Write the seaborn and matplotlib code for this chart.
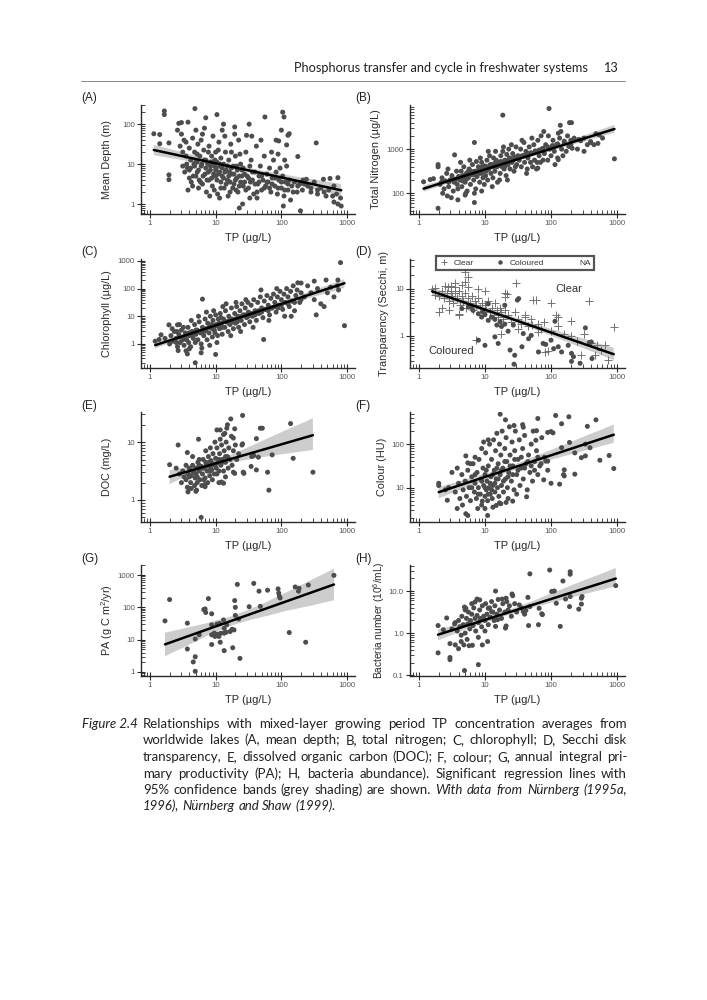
import numpy as np
import pandas as pd
import seaborn as sns
import matplotlib
matplotlib.use("Agg")
import matplotlib.pyplot as plt
from matplotlib.ticker import FixedLocator, FixedFormatter
from matplotlib.collections import PolyCollection
from matplotlib.lines import Line2D

# ---------------- data: (log10 TP, log10 response) ----------------
depth_pairs = [
    (0.06,1.76),(0.15,1.74),(0.22,2.33),(0.22,2.24),(0.15,1.51),(0.29,1.53),(0.29,0.73),(0.29,0.61),
    (0.42,1.85),(0.44,2.02),(0.48,2.04),(0.58,2.05),(0.685,2.39),(0.85,2.16),(1.02,2.24),(1.12,2.0),
    (1.29,1.93),(1.51,2.0),(1.75,2.18),(2.02,2.3),(2.04,2.18),(2.0,1.85),(1.92,1.6),(1.96,1.58),
    (2.1,1.72),(2.12,1.76),(2.08,1.48),(2.25,1.19),(2.53,1.53),(2.33,0.6),(2.38,0.62),(2.64,0.62),
    (2.74,0.64),(2.86,0.66),(2.86,0.0),(2.91,-0.05),(1.36,-0.1),(1.41,0.0),(2.29,-0.17),(2.03,-0.05),
    (0.46,1.45),(0.5,1.3),(0.52,1.6),(0.55,1.2),(0.57,0.9),(0.6,0.85),(0.62,1.1),(0.48,1.75),(0.55,1.55),
    (0.6,1.4),(0.58,0.35),(0.63,0.55),(0.65,1.65),(0.66,0.7),
    (0.68,1.3),(0.7,1.05),(0.72,0.8),(0.73,1.5),(0.75,0.6),(0.76,1.2),(0.78,0.95),(0.8,1.75),(0.8,0.5),
    (0.82,1.35),(0.84,0.75),(0.85,1.1),(0.7,1.85),(0.74,0.4),(0.78,1.6),(0.83,1.9),(0.86,0.3),(0.68,0.95),(0.72,1.25),
    (0.88,1.0),(0.9,1.45),(0.9,0.6),(0.92,0.85),(0.94,1.2),(0.95,0.45),(0.96,1.7),(0.98,0.95),(1.0,1.3),
    (1.0,0.7),(1.02,1.05),(1.03,0.25),(1.05,1.55),(1.06,0.8),(1.08,1.15),(1.08,0.55),(0.93,1.05),(0.97,0.75),
    (1.01,0.9),(1.04,1.35),(1.07,0.95),(0.89,1.3),(0.99,1.1),(1.1,0.7),(1.1,1.85),(0.91,0.2),(1.06,0.15),
    (1.12,1.0),(1.13,0.4),(1.15,1.3),(1.16,0.85),(1.18,0.6),(1.2,1.1),(1.22,0.3),(1.23,1.5),(1.25,0.75),
    (1.27,0.95),(1.28,0.5),(1.3,1.2),(1.32,0.65),(1.33,0.85),(1.35,1.6),(1.36,0.45),(1.38,1.0),(1.4,0.7),
    (1.14,1.7),(1.19,0.2),(1.24,1.3),(1.31,0.35),(1.37,1.25),(1.21,0.8),(1.29,1.75),
    (1.42,0.9),(1.44,0.55),(1.46,1.3),(1.48,0.7),(1.5,0.4),(1.52,0.95),(1.54,1.1),(1.56,0.6),(1.58,0.25),
    (1.6,0.8),(1.62,1.45),(1.64,0.5),(1.66,0.7),(1.68,0.95),(1.7,0.35),(1.72,0.6),(1.74,1.2),(1.76,0.45),
    (1.78,0.75),(1.47,1.72),(1.55,1.7),(1.63,0.15),(1.69,1.6),(1.52,0.15),
    (1.8,0.55),(1.82,0.9),(1.84,0.3),(1.86,0.65),(1.88,1.1),(1.9,0.45),(1.92,0.8),(1.94,0.25),(1.96,0.6),
    (1.98,0.9),(2.0,0.4),(2.02,0.7),(2.04,0.2),(2.06,0.55),(2.08,0.95),(2.1,0.35),(2.12,0.6),(2.14,0.1),
    (2.16,0.45),(2.2,0.55),(2.24,0.3),(2.28,0.5),(2.32,0.35),(1.85,1.3),(1.95,1.25),(2.05,1.1),
    (2.4,0.45),(2.45,0.3),(2.5,0.55),(2.55,0.25),(2.6,0.4),(2.68,0.2),(2.72,0.35),(2.78,0.2),(2.8,0.45),(2.84,0.25),
    (0.5,0.95),(0.53,0.8),(0.56,1.0),(0.6,0.65),(0.62,0.9),(0.65,0.45),(0.67,1.0),(0.7,0.7),(0.72,1.05),
    (0.74,0.85),(0.77,0.55),(0.79,1.0),(0.81,0.7),(0.83,1.1),(0.85,0.9),(0.87,0.6),(0.89,0.8),(0.92,0.95),
    (0.94,0.65),(0.96,1.05),(0.98,0.35),(1.0,0.85),(1.02,0.6),(1.04,0.75),(1.06,1.0),(1.08,0.4),(1.1,0.9),
    (1.12,0.65),(1.14,0.8),(1.16,0.5),(1.18,0.95),(1.2,0.7),(1.22,0.55),(1.24,0.9),(1.26,0.4),(1.28,0.75),
    (1.3,0.6),(1.32,0.95),(1.34,0.3),(1.36,0.7),(1.38,0.55),(1.4,0.85),(1.42,0.45),(1.44,0.75),(1.46,0.35),
    (1.5,0.65),(1.53,0.55),(1.56,0.8),(1.6,0.5),(1.63,0.3),(1.66,0.55),(1.7,0.7),(1.74,0.4),(1.78,0.55),
    (1.82,0.4),(1.86,0.5),(1.9,0.65),(1.95,0.4),(2.0,0.55),(2.05,0.35),(2.1,0.5),(2.18,0.3),(2.25,0.45),
    (2.35,0.5),(2.45,0.4),(2.55,0.35),(2.65,0.3),(2.9,0.15),(2.8,0.05),
]

nitrogen_pairs = [
    (0.07,2.26),(0.17,2.31),(0.22,2.33),(0.29,2.65),(0.29,2.6),(0.29,1.66),(1.27,3.77),(1.97,3.92),
    (2.96,2.78),(0.84,3.15),(0.54,2.87),(0.43,1.94),(0.49,1.9),(0.59,1.85),(0.84,1.79),(0.7,1.96),
    (0.95,2.05),(2.27,3.06),(2.32,3.02),(2.28,3.6),(2.31,3.6),(2.14,3.54),(1.89,3.4),(2.5,2.95),
    (2.11,2.76),(1.8,2.57),(2.11,3.36),(2.71,3.13),(2.73,3.32),(2.6,3.17),(2.45,3.19),
    (0.32,2.2),(0.35,2.35),(0.38,2.1),(0.4,2.28),(0.42,2.45),(0.45,2.15),(0.47,2.3),(0.5,2.4),(0.52,2.05),
    (0.55,2.32),(0.57,2.5),(0.58,2.2),(0.6,2.38),(0.36,2.0),(0.44,2.55),(0.53,2.25),(0.59,2.1),(0.34,2.25),
    (0.62,2.3),(0.64,2.5),(0.65,2.15),(0.67,2.4),(0.68,2.6),(0.7,2.25),(0.72,2.45),(0.73,2.05),(0.75,2.35),
    (0.76,2.55),(0.78,2.2),(0.8,2.42),(0.81,2.65),(0.83,2.3),(0.85,2.5),(0.86,2.1),(0.88,2.38),(0.9,2.6),
    (0.63,2.7),(0.71,2.0),(0.77,2.75),(0.84,2.0),(0.69,2.35),(0.79,2.5),(0.87,2.72),(0.66,2.28),(0.74,2.48),
    (0.91,2.45),(0.92,2.25),(0.94,2.55),(0.95,2.7),(0.97,2.35),(0.98,2.5),(1.0,2.62),(1.01,2.4),(1.03,2.75),
    (1.04,2.3),(1.06,2.55),(1.07,2.85),(1.09,2.45),(1.1,2.65),(1.12,2.35),(1.13,2.8),(1.15,2.5),(1.16,2.95),
    (1.18,2.6),(1.19,2.25),(0.93,2.8),(0.99,2.2),(1.05,2.95),(1.11,2.15),(1.17,2.75),(1.02,2.5),(1.08,2.65),
    (0.96,2.6),(1.14,2.62),
    (1.21,2.7),(1.23,2.45),(1.24,2.85),(1.26,2.6),(1.27,2.95),(1.29,2.55),(1.3,2.75),(1.32,2.4),(1.33,2.88),
    (1.35,2.65),(1.36,3.0),(1.38,2.55),(1.39,2.78),(1.41,2.7),(1.42,2.9),(1.44,2.5),(1.45,2.82),(1.47,3.05),
    (1.48,2.65),(1.5,2.85),(1.22,2.3),(1.28,3.05),(1.34,2.3),(1.4,3.1),(1.46,2.6),(1.31,2.62),(1.37,2.8),
    (1.52,2.75),(1.54,3.0),(1.55,2.6),(1.57,2.85),(1.59,3.15),(1.6,2.7),(1.62,2.95),(1.64,2.55),(1.65,2.8),
    (1.67,3.05),(1.69,2.7),(1.7,2.9),(1.72,2.6),(1.74,3.1),(1.75,2.75),(1.77,2.95),(1.79,2.7),(1.8,3.2),
    (1.82,2.85),(1.84,2.7),(1.86,3.0),(1.88,2.75),(1.56,3.2),(1.63,2.45),(1.71,3.25),(1.78,2.55),(1.85,3.3),
    (1.9,2.9),(1.92,3.1),(1.95,2.75),(1.98,3.0),(2.0,2.85),(2.03,3.2),(2.05,2.95),(2.08,3.1),(2.1,2.8),
    (2.13,3.25),(2.16,3.0),(2.18,2.85),(2.2,3.15),(2.23,2.95),(2.25,3.3),(2.3,3.1),(2.35,3.25),(2.4,3.0),
    (2.5,3.25),(2.55,3.1),(2.6,3.15),(2.65,3.1),(2.68,3.35),(2.78,3.25),(1.96,3.3),(2.06,2.65),(2.15,3.4),
    (0.45,2.25),(0.5,2.32),(0.55,2.3),(0.6,2.33),(0.65,2.38),(0.7,2.4),(0.72,2.32),(0.78,2.45),(0.82,2.48),
    (0.85,2.42),(0.88,2.5),(0.92,2.55),(0.95,2.45),(0.98,2.58),(1.0,2.52),(1.03,2.6),(1.06,2.58),(1.09,2.62),
    (1.12,2.6),(1.15,2.68),(1.18,2.66),(1.2,2.62),(1.24,2.72),(1.27,2.7),(1.3,2.68),(1.33,2.74),(1.36,2.72),
    (1.4,2.78),(1.43,2.76),(1.46,2.8),(1.5,2.78),(1.55,2.84),(1.6,2.86),(1.65,2.9),(1.7,2.92),(1.76,2.96),
    (1.82,2.98),(1.88,3.02),(1.95,3.05),(2.02,3.08),(2.1,3.12),(2.2,3.18),(2.3,3.2),(2.42,3.22),
]

chlorophyll_pairs = [
    (2.9,2.94),(2.96,0.66),(0.69,-0.68),(2.25,2.21),(2.53,1.05),(2.68,2.31),(2.86,2.31),(2.87,1.95),
    (2.5,2.27),(0.43,-0.24),(0.57,-0.36),(0.6,-0.18),(0.78,-0.32),(1.0,-0.38),(1.73,0.16),(0.42,0.69),
    (0.8,1.62),(1.11,1.35),(0.08,0.1),(0.14,0.16),(0.17,0.33),(0.29,0.69),(0.23,0.2),
    (0.3,0.0),(0.32,0.3),(0.35,0.1),(0.37,0.45),(0.4,0.2),(0.42,-0.1),(0.44,0.35),(0.46,0.05),(0.48,0.5),
    (0.5,0.25),(0.52,-0.05),(0.54,0.4),(0.56,0.15),(0.58,0.6),(0.6,0.3),(0.62,-0.1),(0.64,0.45),(0.66,0.2),
    (0.68,0.7),(0.7,0.35),(0.34,0.55),(0.45,0.7),(0.55,-0.25),(0.63,0.85),(0.69,0.05),(0.51,0.6),(0.59,0.05),(0.41,0.45),
    (0.72,0.5),(0.73,0.15),(0.75,0.8),(0.77,0.4),(0.78,0.0),(0.8,0.6),(0.82,0.3),(0.84,0.9),(0.85,0.55),
    (0.87,0.15),(0.88,0.75),(0.9,0.4),(0.92,1.0),(0.93,0.6),(0.95,0.25),(0.96,0.85),(0.98,0.5),(1.0,1.05),
    (1.01,0.7),(1.03,0.3),(1.04,0.9),(1.06,0.55),(1.07,1.1),(1.09,0.75),(1.1,0.35),(0.74,1.0),(0.79,-0.15),
    (0.86,1.15),(0.91,-0.05),(0.97,1.2),(1.02,0.05),(1.08,0.95),(0.83,0.45),(0.94,0.7),(0.99,0.4),(1.05,0.65),
    (1.12,0.9),(1.14,0.6),(1.15,1.2),(1.17,0.8),(1.19,0.45),(1.2,1.0),(1.22,0.7),(1.24,1.3),(1.25,0.9),
    (1.27,0.55),(1.29,1.1),(1.3,0.75),(1.32,1.35),(1.34,1.0),(1.35,0.6),(1.37,1.2),(1.39,0.85),(1.4,1.45),
    (1.42,1.05),(1.44,0.7),(1.45,1.3),(1.47,0.95),(1.49,1.5),(1.5,1.15),(1.16,1.45),(1.23,0.3),(1.31,1.5),
    (1.38,0.45),(1.46,1.6),(1.21,0.85),(1.33,0.8),
    (1.52,0.8),(1.54,1.4),(1.56,1.0),(1.58,1.6),(1.6,1.2),(1.62,0.85),(1.64,1.5),(1.66,1.1),(1.68,1.7),
    (1.7,1.3),(1.72,0.95),(1.74,1.55),(1.76,1.25),(1.78,1.75),(1.8,1.4),(1.82,1.05),(1.84,1.65),(1.86,1.3),
    (1.88,1.8),(1.9,1.5),(1.92,1.15),(1.94,1.7),(1.96,1.4),(1.98,1.9),(2.0,1.6),(1.57,0.6),(1.69,1.95),
    (1.81,0.85),(1.93,2.0),
    (2.02,1.25),(2.04,1.8),(2.06,1.5),(2.08,2.0),(2.1,1.7),(2.12,1.35),(2.14,1.9),(2.16,1.55),(2.18,2.1),
    (2.2,1.2),(2.22,1.75),(2.24,1.95),(2.28,1.5),(2.3,1.85),(2.35,1.7),(2.4,2.1),(2.45,1.85),(2.5,1.6),
    (2.55,2.0),(2.6,1.45),(2.65,1.35),(2.7,1.85),(2.75,2.05),(2.8,1.7),(2.85,2.1),(2.05,1.0),(2.15,1.0),(2.3,2.2),
    (0.4,0.05),(0.45,0.25),(0.5,0.15),(0.55,0.3),(0.6,0.4),(0.65,0.3),(0.7,0.5),(0.75,0.45),(0.8,0.4),
    (0.85,0.5),(0.9,0.6),(0.95,0.55),(1.0,0.65),(1.05,0.75),(1.1,0.6),(1.15,0.8),(1.2,0.75),(1.25,0.8),
    (1.3,0.9),(1.35,0.95),(1.4,1.0),(1.45,1.05),(1.5,1.0),(1.55,1.1),(1.6,1.05),(1.65,1.2),(1.7,1.15),
    (1.75,1.25),(1.8,1.2),(1.85,1.3),(1.9,1.35),(1.95,1.3),(2.0,1.4),(2.1,1.45),(2.2,1.5),(2.3,1.6),
]

secchi_clear_pairs = [
    (0.7,1.35),(0.75,1.25),(1.47,1.13),(2.58,0.73),(2.95,0.19),(2.0,0.7),(1.73,0.77),(1.77,0.77),
    (1.33,0.89),(1.3,0.82),(0.3,0.51),(0.25,0.86),(0.44,1.04),(0.49,1.06),(0.54,1.04),(0.75,1.04),
    (0.7,1.14),(0.6,0.44),(0.61,0.47),(2.07,0.44),(2.11,0.41),(2.31,0.31),(1.91,-0.34),(1.96,-0.33),
    (2.46,-0.41),(2.67,-0.41),(2.87,-0.51),(2.82,-0.2),(1.81,0.08),(1.25,0.05),(0.87,-0.09),(1.6,0.4),
    (1.71,0.23),(1.5,0.15),
    (0.3,0.85),(0.35,0.95),(0.38,0.8),(0.42,0.9),(0.45,0.75),(0.48,0.95),(0.5,0.85),(0.52,0.7),(0.55,0.9),
    (0.57,0.8),(0.6,0.95),(0.62,0.65),(0.65,0.85),(0.67,0.75),(0.7,0.9),(0.72,0.6),(0.75,0.8),(0.77,0.7),
    (0.8,0.85),(0.82,0.55),(0.85,0.75),(0.87,0.65),(0.9,0.8),(0.92,0.6),(0.95,0.7),(0.97,0.5),(1.0,0.65),
    (1.02,0.55),(1.05,0.75),(1.08,0.5),(1.1,0.6),(1.13,0.45),(1.15,0.7),(1.18,0.55),(1.2,0.4),(1.23,0.6),
    (1.25,0.5),(1.28,0.35),(1.3,0.55),(1.35,0.45),(1.4,0.3),(1.45,0.5),(1.5,0.35),(1.55,0.25),(1.6,0.45),
    (1.65,0.2),(1.7,0.35),(1.8,0.25),(1.85,0.15),(1.9,0.3),(2.0,0.1),(2.1,0.2),(2.2,0.05),(2.3,0.0),
    (2.4,-0.1),(2.5,0.05),(2.6,-0.15),(2.7,-0.2),(2.75,-0.3),(0.2,1.0),(0.25,1.02),(0.4,1.05),(0.55,1.12),
    (0.65,1.08),(0.9,1.0),(1.0,0.95),(1.3,0.9),(0.35,0.6),(0.45,0.55),
]

secchi_coloured_pairs = [
    (0.75,0.61),(0.82,0.54),(0.9,0.47),(0.97,0.51),(1.05,0.33),(1.1,0.4),(1.18,0.23),(1.23,0.3),
    (1.0,-0.2),(1.2,-0.16),(1.15,-0.02),(0.9,-0.09),(1.43,0.23),(1.38,-0.3),(1.45,-0.41),(1.44,-0.6),
    (1.56,-0.23),(1.58,0.05),(1.66,-0.06),(1.51,0.79),(1.49,0.76),(1.7,0.01),(1.81,-0.34),(1.88,-0.16),
    (2.0,-0.09),(2.04,-0.27),(2.11,-0.23),(2.31,-0.37),(2.34,-0.44),(2.44,-0.58),(2.52,0.17),(2.58,-0.14),
    (2.61,-0.13),(2.62,-0.48),(2.31,-0.54),(2.06,0.31),(1.92,-0.18),(2.26,-0.2),(2.16,-0.34),(1.3,0.65),
    (1.05,0.68),(0.65,0.58),(0.8,0.6),(0.95,0.4),(1.0,0.45),(1.15,0.35),(1.25,0.2),(1.35,0.1),(1.3,0.25),
]

doc_pairs = [
    (0.3,0.61),(0.43,0.95),(0.57,0.82),(0.74,1.05),(1.23,1.4),(1.41,1.46),(1.18,1.3),(1.17,1.24),
    (1.02,1.21),(1.07,1.21),(1.29,1.23),(1.27,1.07),(1.12,1.13),(2.14,1.32),(2.18,0.72),(2.48,0.48),
    (1.81,0.17),(1.79,0.48),(1.86,0.78),(1.68,1.24),(1.71,1.24),(1.62,1.06),(1.41,0.97),(1.4,0.95),
    (1.55,0.75),(1.58,0.77),(1.65,0.74),(1.62,0.52),(1.42,0.48),(1.43,0.46),(1.54,0.58),(1.27,0.48),
    (1.29,0.46),(0.58,0.14),(0.63,0.2),(0.71,0.17),(0.84,0.23),(0.84,0.27),(1.09,0.31),(1.12,0.29),(0.78,-0.3),
    (0.5,0.5),(0.52,0.4),(0.55,0.35),(0.58,0.45),(0.6,0.55),(0.62,0.3),(0.63,0.42),(0.65,0.6),(0.67,0.48),
    (0.68,0.25),(0.7,0.55),(0.72,0.4),(0.73,0.65),(0.75,0.5),(0.76,0.35),(0.78,0.58),(0.8,0.45),(0.81,0.7),
    (0.83,0.55),(0.84,0.38),(0.86,0.62),(0.87,0.5),(0.89,0.75),(0.9,0.58),(0.91,0.42),(0.93,0.68),(0.94,0.52),
    (0.96,0.8),(0.97,0.62),(0.98,0.45),(1.0,0.72),(1.01,0.55),(1.02,0.9),(1.04,0.65),(1.05,0.5),(1.06,0.8),
    (1.08,0.6),(1.09,0.95),(1.1,0.7),(1.12,0.5),(1.13,0.85),(1.15,0.65),(1.16,1.0),(1.18,0.75),(1.19,0.55),
    (1.2,0.9),(1.22,0.7),(1.24,1.1),(1.25,0.6),(1.27,0.85),(1.3,0.95),(1.32,0.7),(1.35,0.8),(0.55,0.6),
    (0.6,0.2),(0.7,0.15),(0.75,0.7),(0.85,0.85),(0.95,0.35),(1.05,0.3),(1.15,0.4),(0.45,0.45),(0.48,0.3),
    (0.4,0.55),(0.65,0.75),(0.88,0.3),(0.92,0.9),(0.99,1.0),(1.07,1.05),(1.14,1.15),(0.57,0.22),(0.69,0.38),(0.79,0.25),
    (0.6,0.4),(0.65,0.5),(0.7,0.45),(0.75,0.6),(0.8,0.55),(0.85,0.65),(0.9,0.65),(0.95,0.6),(1.0,0.62),
    (1.05,0.7),(1.1,0.65),(1.15,0.75),(0.72,0.3),(0.82,0.35),(0.92,0.5),(1.02,0.45),
]

colour_pairs = [
    (0.3,1.1),(0.3,1.05),(0.43,0.71),(0.58,0.52),(0.71,1.73),(0.74,1.57),(1.23,2.69),(1.31,2.56),
    (1.44,2.43),(1.57,2.45),(1.58,2.39),(1.8,2.59),(2.07,2.66),(2.27,2.63),(2.68,2.56),(2.55,2.41),
    (2.16,2.47),(1.95,2.27),(2.0,2.29),(2.03,2.26),(1.77,2.09),(1.78,2.31),(1.73,2.3),
    (2.95,1.44),(2.74,1.63),(2.88,1.74),(2.46,1.69),(2.52,1.73),(2.36,1.31),(2.19,1.3),(2.2,1.27),
    (2.2,1.41),(2.13,1.08),(2.0,1.1),(1.89,1.18),(1.92,1.61),(1.95,1.61),(2.36,1.8),(2.59,1.92),
    (2.52,2.0),(2.28,2.04),(2.16,1.92),
    (1.0,0.52),(1.04,0.36),(0.74,0.36),(0.71,0.4),(0.89,0.52),(1.24,0.63),(1.32,0.66),(1.63,0.79),
    (1.42,0.69),(1.17,0.59),(0.96,0.69),
    (0.55,0.9),(0.6,1.1),(0.62,0.75),(0.65,1.3),(0.67,0.95),(0.7,1.15),(0.72,0.8),(0.74,1.4),(0.76,1.0),
    (0.78,0.7),(0.8,1.25),(0.82,1.55),(0.84,0.9),(0.85,1.1),(0.87,0.75),(0.88,1.35),(0.9,1.0),(0.91,1.65),
    (0.93,0.85),(0.94,1.2),(0.95,0.6),(0.97,1.45),(0.98,1.05),(1.0,0.8),(1.0,1.3),(1.01,1.8),(1.02,0.95),
    (1.03,1.15),(1.04,0.7),(1.05,1.5),(1.06,1.0),(1.07,2.0),(1.08,0.85),(1.09,1.25),(1.1,1.65),(1.11,0.75),
    (1.12,1.05),(1.13,2.1),(1.14,1.4),(1.15,0.9),(1.16,1.85),(1.17,1.2),(1.18,2.25),(1.19,1.0),(1.2,1.55),
    (1.21,0.8),(1.22,2.0),(1.23,1.3),(1.24,1.75),(1.25,1.05),(1.26,2.3),(1.27,1.45),(1.28,0.9),(1.3,1.9),
    (1.31,1.2),(1.32,2.15),(1.33,1.6),(1.34,1.0),(1.36,1.35),(1.37,2.4),(1.38,1.75),(1.4,1.15),(1.41,2.05),
    (1.42,1.5),(1.44,0.95),(1.45,1.85),(1.46,2.3),(1.48,1.3),(1.5,1.65),(1.52,2.1),(1.53,1.05),(1.55,1.45),
    (1.57,1.9),(1.58,1.2),(1.6,2.2),(1.62,1.55),(1.64,0.95),(1.66,1.75),(1.68,1.35),(1.7,2.0),(1.72,1.15),
    (1.75,1.6),(1.78,1.85),(1.8,1.3),(1.83,1.5),(1.86,2.15),(1.9,1.7),(1.95,1.4),(0.95,1.9),(0.85,1.7),
    (1.05,2.1),(0.98,2.05),(0.5,1.35),(0.45,1.0),(0.4,0.95),(0.58,1.45),(0.66,0.6),(0.78,1.55),(1.12,0.55),
    (1.22,0.65),(1.35,0.75),(1.48,0.85),
    (0.8,1.0),(0.85,1.3),(0.9,0.85),(0.95,1.15),(1.0,1.0),(1.02,1.4),(1.05,0.85),(1.08,1.1),(1.1,0.95),
    (1.12,1.3),(1.15,1.1),(1.18,1.45),(1.2,1.2),(1.25,1.4),(1.28,1.15),(1.3,1.6),(1.35,1.25),(1.38,1.5),
    (1.42,1.3),(1.45,1.65),(1.5,1.4),(1.55,1.7),(1.6,1.45),(1.65,1.6),(1.7,1.5),(1.75,1.4),(1.8,1.7),(1.85,1.55),
]

pa_pairs = [
    (0.23,1.58),(0.3,2.24),(0.57,1.51),(0.57,0.71),(0.66,0.31),(0.69,0.47),(0.69,1.02),(0.69,0.02),
    (0.75,1.15),(0.82,1.93),(0.84,1.95),(0.85,1.84),(0.89,2.27),(0.94,1.8),(0.94,1.46),(0.94,1.15),
    (0.94,0.85),(0.98,1.2),(0.99,1.1),(1.02,1.48),(1.03,1.17),(1.06,1.5),(1.08,1.2),(1.12,1.61),
    (1.07,0.92),(1.13,1.2),(1.05,1.1),(1.13,1.35),(1.17,1.46),(1.16,1.23),(1.13,0.66),(1.22,1.25),
    (1.26,0.75),(1.28,1.3),(1.35,1.64),(1.37,0.42),(1.3,1.75),(1.25,1.32),(1.29,2.21),(1.3,2.0),
    (1.33,2.71),(1.51,2.02),(1.58,2.74),(1.66,2.5),(1.68,2.03),(1.79,2.53),(1.95,2.57),(1.96,2.44),
    (1.97,2.34),(1.98,2.29),(2.12,1.22),(2.21,2.63),(2.27,2.59),(2.26,2.5),(2.41,2.69),(2.37,0.92),(2.8,2.99),
]

bacteria_pairs = [
    (0.29,0.18),(0.29,-0.47),(0.42,0.36),(0.37,0.08),(0.47,-0.58),(0.47,-0.63),(0.47,-0.25),(0.54,0.22),
    (0.55,-0.28),(0.6,-0.37),(0.64,-0.2),(0.69,-0.89),(0.69,0.62),(0.71,0.59),(0.68,-0.28),(0.76,-0.3),
    (0.81,-0.29),(0.9,-0.75),(0.96,-0.28),(1.04,-0.2),(0.92,0.79),(0.88,0.81),(0.85,0.74),(1.16,1.0),
    (1.26,0.81),(1.32,0.83),(1.42,0.89),(1.68,1.41),(1.98,1.5),(2.29,1.46),(2.29,1.4),(2.18,1.24),
    (2.01,0.99),(2.05,1.0),(2.08,0.71),(2.14,0.16),(2.29,0.87),(2.28,0.63),(2.42,0.57),(2.46,0.83),
    (2.46,0.69),(2.47,0.87),(2.22,0.81),(1.68,0.63),(1.65,0.85),(1.82,0.59),(1.86,0.46),(1.87,0.44),
    (1.81,0.2),(1.66,0.18),(1.58,0.51),(1.62,0.54),(1.52,0.67),(1.41,0.93),(1.37,0.65),(1.32,0.17),
    (1.31,0.12),(1.16,0.16),(1.19,0.32),(1.1,0.51),(1.05,0.59),(2.98,1.13),
    (0.5,0.1),(0.55,0.25),(0.58,0.05),(0.6,0.3),(0.62,0.15),(0.65,0.4),(0.67,0.2),(0.7,0.0),(0.72,0.35),
    (0.74,0.22),(0.75,0.5),(0.77,0.1),(0.78,0.3),(0.8,0.45),(0.82,0.18),(0.83,0.6),(0.85,0.35),(0.86,0.05),
    (0.88,0.42),(0.9,0.25),(0.92,0.55),(0.93,0.35),(0.95,0.15),(0.96,0.65),(0.98,0.4),(1.0,0.3),(1.01,0.7),
    (1.03,0.45),(1.05,0.2),(1.07,0.6),(1.08,0.38),(1.1,0.75),(1.12,0.5),(1.14,0.3),(1.15,0.65),(1.18,0.45),
    (1.2,0.8),(1.22,0.55),(1.25,0.35),(1.27,0.7),(1.3,0.5),(1.33,0.75),(1.35,0.55),(1.4,0.4),(1.45,0.7),
    (1.48,0.5),(1.55,0.6),(1.6,0.45),(0.7,0.55),(0.8,0.7),(0.9,-0.1),(1.0,0.05),(0.64,-0.05),(0.73,-0.15),
]

x_tick_labels = ["1", "10", "100", "1000"]
panel_letters = ["(A)", "(B)", "(C)", "(D)", "(E)", "(F)", "(G)", "(H)"]
y_titles = ["Mean Depth (m)", "Total Nitrogen (\u00b5g/L)", "Chlorophyll (\u00b5g/L)",
            "Transparency (Secchi, m)", "DOC (mg/L)", "Colour (HU)",
            "PA (g C m$^2$/yr)", "Bacteria number (10$^6$/mL)"]
y_tick_sets = [
    ([0, 1, 2], ["1", "10", "100"]),
    ([2, 3], ["100", "1000"]),
    ([0, 1, 2, 3], ["1", "10", "100", "1000"]),
    ([0, 1], ["1", "10"]),
    ([0, 1], ["1", "10"]),
    ([1, 2], ["10", "100"]),
    ([0, 1, 2, 3], ["1", "10", "100", "1000"]),
    ([-1, 0, 1], ["0.1", "1.0", "10.0"]),
]
y_limits = [(-0.25, 2.48), (1.53, 4.0), (-0.87, 3.07), (-0.68, 1.63),
            (-0.38, 1.52), (0.21, 2.74), (-0.125, 3.31), (-1.02, 1.62)]
legend_labels = ["Clear", "Coloured", "NA"]

# ---------------- figure ----------------
sns.set_theme(style="ticks")
plt.rcParams["font.family"] = ["Liberation Sans", "DejaVu Sans"]
plt.rcParams["mathtext.fontset"] = "custom"
plt.rcParams["mathtext.rm"] = "Liberation Sans"

W, H = 707, 1000
fig = plt.figure(figsize=(W / 100, H / 100), dpi=100)
fig.patch.set_facecolor("white")

cols = [(141, 355), (410, 625)]
rows = [(105, 214), (259, 368), (412, 522), (565, 676)]
ylabel_off = [34, 34, 34, 26, 34, 28, 34, 31]
ylabel_size = [7.8, 7.8, 7.8, 7.8, 7.8, 7.8, 7.8, 7.3]

PT = "#4d4d4d"
minor_pos = [k + np.log10(m) for k in range(-2, 5) for m in range(2, 10)]


def make_axes(i):
    (l, r), (t, b) = cols[i % 2], rows[i // 2]
    ax = fig.add_axes([l / W, 1 - b / H, (r - l) / W, (b - t) / H])
    return ax, (r - l), (b - t)


def style_axes(i, ax, wpx, hpx):
    ax.set_xlim(-0.135, 3.12)
    ax.set_ylim(*y_limits[i])
    ax.xaxis.set_major_locator(FixedLocator([0, 1, 2, 3]))
    ax.xaxis.set_major_formatter(FixedFormatter(x_tick_labels))
    ax.xaxis.set_minor_locator(FixedLocator(minor_pos))
    yt, yl = y_tick_sets[i]
    ax.yaxis.set_major_locator(FixedLocator(yt))
    ax.yaxis.set_major_formatter(FixedFormatter(yl))
    ax.yaxis.set_minor_locator(FixedLocator(minor_pos))
    sns.despine(ax=ax)
    for s in ("left", "bottom"):
        ax.spines[s].set_color("#2a2a2a")
        ax.spines[s].set_linewidth(1.0)
    ax.tick_params(which="major", direction="inout", length=6, width=0.8, color="#2a2a2a",
                   labelsize=5.6, labelcolor="#555555", pad=1.5)
    ax.tick_params(which="minor", direction="in", length=2.6, width=0.6, color="#2a2a2a")
    ax.set_xlabel("TP (\u00b5g/L)", fontsize=8, color="#2a2a2a")
    ax.xaxis.label.set_va("center")
    ax.xaxis.set_label_coords(0.5, -24 / hpx)
    ax.set_ylabel(y_titles[i], fontsize=ylabel_size[i], color="#2a2a2a")
    ax.yaxis.label.set_va("center")
    ax.yaxis.set_label_coords(-ylabel_off[i] / wpx, 0.5)
    ax.set_facecolor("none")


def add_regression(ax, df, seed):
    sns.regplot(data=df, x="x", y="y", ax=ax, scatter=False, color="black", ci=95,
                n_boot=600, seed=seed, truncate=True, line_kws=dict(lw=1.8, color="black"))
    for c in ax.collections:
        if isinstance(c, PolyCollection):
            c.set_facecolor("#bdbdbd")
            c.set_alpha(0.75)
            c.set_edgecolor("none")


datasets = [depth_pairs, nitrogen_pairs, chlorophyll_pairs, None, doc_pairs,
            colour_pairs, pa_pairs, bacteria_pairs]

for i in range(8):
    ax, wpx, hpx = make_axes(i)
    if i == 3:
        dclear = pd.DataFrame(secchi_clear_pairs, columns=["x", "y"])
        dcol = pd.DataFrame(secchi_coloured_pairs, columns=["x", "y"])
        dall = pd.concat([dclear, dcol], ignore_index=True)
        add_regression(ax, dall, 4)
        sns.scatterplot(data=dclear, x="x", y="y", ax=ax, marker="+", s=28, color="#727272",
                        linewidth=0.7, zorder=2)
        sns.scatterplot(data=dcol, x="x", y="y", ax=ax, marker="o", s=13, color=PT,
                        edgecolor="none", linewidth=0, zorder=2)
        handles = [Line2D([], [], marker="+", ls="none", color="#727272", ms=5, mew=0.7),
                   Line2D([], [], marker="o", ls="none", color=PT, ms=3.2, mew=0),
                   Line2D([], [], ls="none")]
        leg = ax.legend(handles, legend_labels, ncol=3, loc="upper center",
                        bbox_to_anchor=(0.488, 1.065), fontsize=6, frameon=True, fancybox=False,
                        edgecolor="#2a2a2a", handletextpad=0.5, columnspacing=2.6,
                        borderpad=0.35, handlelength=1.2)
        leg.get_frame().set_linewidth(1.6)
        for t in leg.get_texts():
            t.set_color("#333333")
        ax.text(0.737, 0.727, "Clear", transform=ax.transAxes, fontsize=8,
                color="#333333", ha="center", va="center")
        ax.text(0.19, 0.155, "Coloured", transform=ax.transAxes, fontsize=8,
                color="#333333", ha="center", va="center")
    else:
        df = pd.DataFrame(datasets[i], columns=["x", "y"])
        add_regression(ax, df, i + 1)
        sns.scatterplot(data=df, x="x", y="y", ax=ax, s=13, color=PT, edgecolor="none",
                        linewidth=0, zorder=2)
    for line in ax.lines:
        line.set_zorder(3)
    style_axes(i, ax, wpx, hpx)
    lx = 81 if i % 2 == 0 else 355
    ly = [98, 252, 406, 559][i // 2]
    fig.text(lx / W, 1 - ly / H, panel_letters[i], fontsize=8.5, color="#222222",
             ha="left", va="center")

# ---------------- running header ----------------
HF = ["Lato", "DejaVu Sans"]
fig.text(588 / W, 1 - 68 / H, "Phosphorus transfer and cycle in freshwater systems",
         ha="right", va="center", fontsize=9.2, family=HF, color="#222222")
fig.text(618 / W, 1 - 68 / H, "13", ha="right", va="center", fontsize=9.2, family=HF,
         color="#222222")
fig.add_artist(Line2D([81 / W, 625 / W], [1 - 81 / H, 1 - 81 / H], lw=0.7, color="#8a8a8a"))

# ---------------- caption (justified) ----------------
CF = 9.5
renderer = fig.canvas.get_renderer()


def word_width(word, style):
    t = fig.text(0, 0, word, fontsize=CF, family=HF, style=style)
    w = t.get_window_extent(renderer).width
    t.remove()
    return w


def caption_line(tokens, y_base, x0, x1, justify=True):
    widths = [word_width(w, s) for w, s in tokens]
    if justify and len(tokens) > 1:
        gap = (x1 - x0 - sum(widths)) / (len(tokens) - 1)
    else:
        gap = word_width("a b", "normal") - word_width("ab", "normal")
    x = x0
    for (w, s), wd in zip(tokens, widths):
        fig.text(x / W, 1 - y_base / H, w, fontsize=CF, family=HF, style=s,
                 ha="left", va="baseline", color="#222222")
        x += wd + gap


def toks(text, style="normal"):
    return [(w, style) for w in text.split()]


cap_lines = [
    toks("Relationships with mixed-layer growing period TP concentration averages from"),
    toks("worldwide lakes (A, mean depth; B, total nitrogen; C, chlorophyll; D, Secchi disk"),
    toks("transparency, E, dissolved organic carbon (DOC); F, colour; G, annual integral pri-"),
    toks("mary productivity (PA); H, bacteria abundance). Significant regression lines with"),
    toks("95% confidence bands (grey shading) are shown.") + toks("With data from N\u00fcrnberg (1995a,", "italic"),
    toks("1996), N\u00fcrnberg and Shaw (1999).", "italic"),
]
cx0, cx1 = 143, 627
base0, lead = 728, 16.5
fig.text(82 / W, 1 - base0 / H, "Figure 2.4", fontsize=CF, family=HF, style="italic",
         ha="left", va="baseline", color="#222222")
for k, tk in enumerate(cap_lines):
    caption_line(tk, base0 + k * lead, cx0, cx1, justify=(k < len(cap_lines) - 1))

fig.savefig("out.png", dpi=100, facecolor="white")
